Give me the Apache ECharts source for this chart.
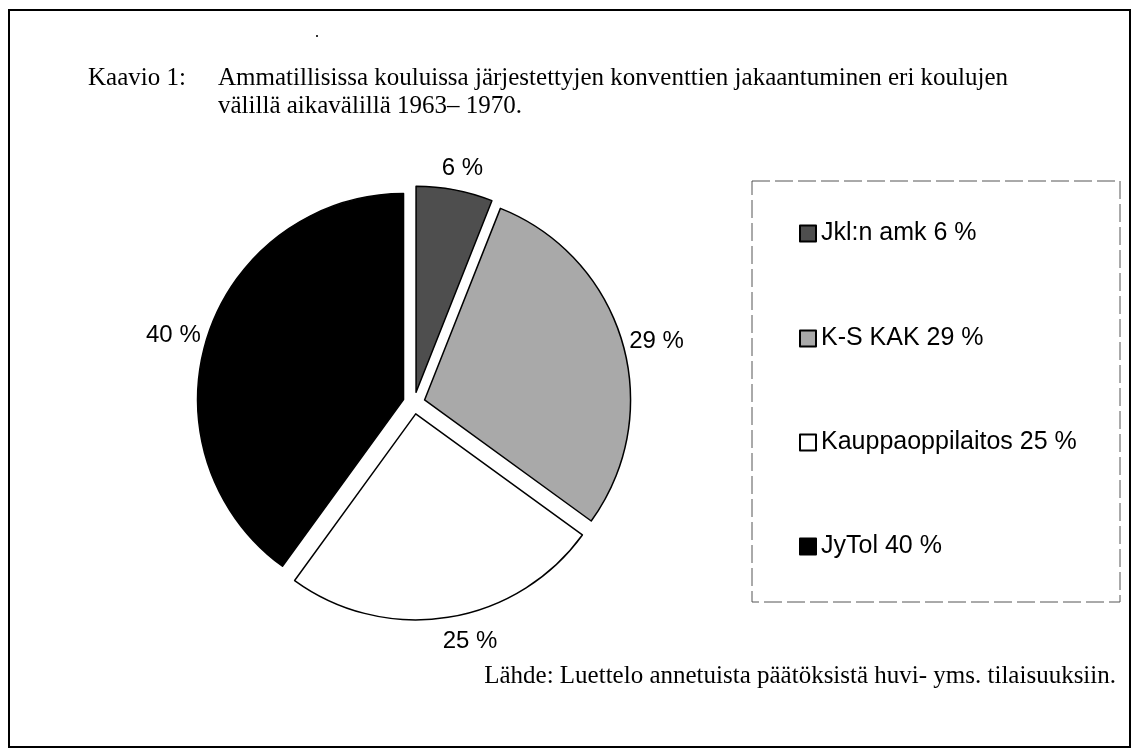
<!DOCTYPE html>
<html>
<head>
<meta charset="utf-8">
<script src="https://cdn.jsdelivr.net/npm/echarts@6/dist/echarts.min.js"></script>
<style>
  html, body { margin: 0; padding: 0; background: #fff; }
  #main { width: 1136px; height: 752px; }
</style>
</head>
<body>
<div id="main"></div>
<script>
var names = ['Jkl:n amk', 'K-S KAK', 'Kauppaoppilaitos', 'JyTol'];
var values = [6, 29, 25, 40];
var colors = ['#4e4e4e', '#a9a9a9', '#ffffff', '#000000'];
// label distance from the arc, sideways nudge, and legend row centres
var labelGap = [22, 4, 24, 2];
var labelDx = [-22, -2, -14, 0];
var legendRows = [235, 340, 444, 548];

var chart = echarts.init(document.getElementById('main'));

var serif = '"Liberation Serif", "Times New Roman", serif';
var sans = '"Liberation Sans", Arial, sans-serif';

var legends = names.map(function (n, i) {
    return {
        data: [n],
        left: 799,
        top: legendRows[i] - 14,
        orient: 'vertical',
        icon: 'rect',
        itemWidth: 16,
        itemHeight: 16,
        selectedMode: false,
        padding: 0,
        formatter: function (name) {
            return name + ' ' + values[names.indexOf(name)] + ' %';
        },
        textStyle: { fontFamily: sans, fontSize: 25, color: '#000' }
    };
});

var option = {
    animation: false,
    backgroundColor: '#fff',
    legend: legends,
    graphic: [
        // frame
        { type: 'rect', shape: { x: 9, y: 10, width: 1121, height: 737 },
          style: { fill: 'none', stroke: '#000', lineWidth: 2 } },
        // small speck above the title
        { type: 'rect', shape: { x: 316, y: 35, width: 2, height: 2 }, style: { fill: '#333' } },
        // legend box
        { type: 'rect', shape: { x: 752, y: 181, width: 368, height: 421 },
          style: { fill: 'none', stroke: '#555', lineWidth: 1, lineDash: [18, 5] } },
        { type: 'text', left: 88, top: 66,
          style: { text: 'Kaavio 1:', font: '25px ' + serif, fill: '#000' } },
        { type: 'text', left: 218, top: 66,
          style: { text: 'Ammatillisissa kouluissa järjestettyjen konventtien jakaantuminen eri koulujen',
                   font: '25px ' + serif, fill: '#000' } },
        { type: 'text', left: 218, top: 94,
          style: { text: 'välillä aikavälillä 1963– 1970.', font: '25px ' + serif, fill: '#000' } },
        { type: 'text', right: 20, top: 664,
          style: { text: 'Lähde: Luettelo annetuista päätöksistä huvi- yms. tilaisuuksiin.',
                   font: '25px ' + serif, fill: '#000' } }
    ],
    series: [{
        type: 'pie',
        center: [414, 403],
        radius: 206,
        startAngle: 90,
        clockwise: true,
        selectedMode: 'multiple',
        selectedOffset: 11,
        emphasis: { disabled: true },
        itemStyle: { borderColor: '#000', borderWidth: 1.5 },
        label: {
            show: true,
            position: 'outside',
            formatter: '{c} %',
            fontFamily: sans,
            fontSize: 24,
            color: '#000'
        },
        labelLine: { show: false, length2: 0 },
        labelLayout: function (p) {
            return { dx: labelDx[p.dataIndex] };
        },
        data: names.map(function (n, i) {
            return {
                name: n,
                value: values[i],
                selected: true,
                itemStyle: { color: colors[i] },
                labelLine: { length: labelGap[i] }
            };
        })
    }]
};

chart.setOption(option);
</script>
</body>
</html>
